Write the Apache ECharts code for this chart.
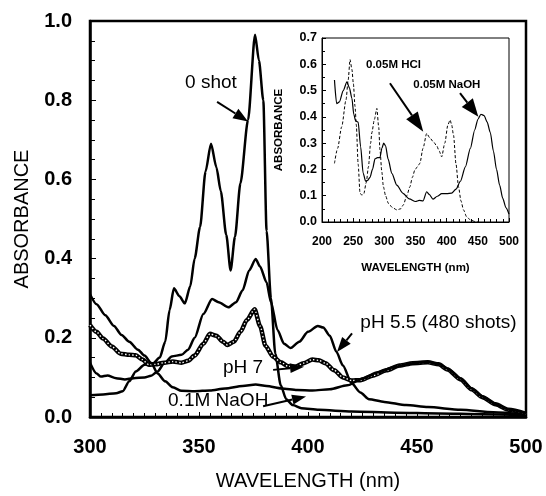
<!DOCTYPE html>
<html>
<head>
<meta charset="utf-8">
<script src="https://cdn.jsdelivr.net/npm/echarts@6/dist/echarts.min.js"></script>
<style>
  html, body { margin: 0; padding: 0; background: #fff; }
  #chart { width: 546px; height: 496px; }
</style>
</head>
<body>
<div id="chart"></div>
<script>
// Absorption spectra: main panel (300-500 nm) and inset (200-500 nm)
const FONT = '"Liberation Sans", Arial, Helvetica, sans-serif';

const mainXTicks = [300, 350, 400, 450, 500];
const mainYTicks = [0.0, 0.2, 0.4, 0.6, 0.8, 1.0];
const insetXTicks = [200, 250, 300, 350, 400, 450, 500];
const insetYTicks = [0.0, 0.1, 0.2, 0.3, 0.4, 0.5, 0.6, 0.7];

// [wavelength nm, absorbance]
const zeroShot = [
  [300,0.055],[306,0.057],[312,0.06],[315,0.065],[318,0.09],[321,0.115],[325,0.132],
  [329,0.136],[332,0.15],[334.5,0.19],[336.5,0.27],[338.5,0.325],[341,0.305],[343.5,0.287],
  [346,0.33],[348,0.4],[350.5,0.48],[353,0.62],[355.5,0.69],[358,0.63],[360,0.57],
  [362.5,0.46],[364.5,0.37],[366.5,0.455],[369,0.59],[372.5,0.75],[375.7,0.965],[377.5,0.9],
  [379.5,0.8],[381,0.47],[383,0.3],[385,0.16],[387.5,0.08],[390,0.045],[393,0.03],
  [397,0.022],[405,0.018],[420,0.014],[440,0.011],[460,0.009],[480,0.007],[500,0.005]
];
const pH55 = [
  [300,0.137],[303,0.11],[305,0.102],[308,0.105],[312,0.098],[316,0.095],[320,0.098],
  [325,0.1],[328,0.104],[331,0.115],[334,0.135],[337.5,0.153],[342,0.157],[345,0.17],
  [348,0.2],[352,0.26],[356,0.298],[359,0.29],[363.5,0.277],[367,0.29],[370,0.32],
  [373,0.37],[376,0.399],[378,0.38],[381,0.34],[383,0.29],[386,0.22],[389,0.185],
  [392,0.174],[396,0.19],[400,0.215],[404.5,0.23],[407,0.226],[410,0.205],[413,0.165],
  [416,0.13],[420,0.085],[424,0.062],[428,0.045],[435,0.038],[445,0.03],[455,0.025],
  [470,0.018],[485,0.012],[500,0.006]
];
const pH7 = [
  [300,0.232],[303,0.215],[306,0.198],[310,0.178],[314,0.16],[318,0.157],[321,0.156],
  [324,0.145],[327,0.132],[330,0.133],[334,0.137],[338,0.14],[342,0.137],[345,0.142],
  [348,0.155],[352,0.185],[355,0.21],[358,0.205],[361,0.19],[363,0.182],[366,0.19],
  [369,0.215],[372,0.245],[375.5,0.272],[378,0.23],[380.5,0.18],[384,0.152],[387.5,0.138],
  [391,0.128],[394,0.127],[398,0.136],[402,0.145],[405,0.143],[408,0.136],[412,0.118],
  [416,0.1],[420,0.092],[424,0.093],[430,0.105],[436,0.118],[442,0.13],[448,0.136],
  [455,0.138],[460,0.133],[464,0.12],[470,0.095],[475,0.07],[480,0.05],[486,0.032],
  [492,0.018],[500,0.008]
];
const naoh01 = [
  [300,0.31],[303,0.285],[307,0.257],[311,0.23],[314.5,0.207],[318,0.19],[322,0.17],
  [325,0.155],[328,0.137],[331,0.11],[334.5,0.09],[338,0.075],[342,0.066],[348,0.065],
  [355,0.067],[362,0.072],[370,0.078],[376,0.082],[381,0.078],[388,0.072],[395,0.068],
  [402,0.067],[410,0.07],[418,0.08],[425,0.097],[432,0.113],[440,0.127],[448,0.136],
  [455,0.139],[460,0.134],[464,0.122],[470,0.097],[475,0.072],[480,0.052],[486,0.033],
  [492,0.019],[500,0.009]
];

// inset spectra
const naoh005 = [
  [220,0.54],[223.5,0.45],[228,0.457],[234,0.5],[240,0.533],[244,0.51],[248,0.47],
  [251,0.41],[254,0.385],[258,0.38],[262,0.286],[266,0.186],[270,0.155],[273,0.158],
  [277,0.17],[281,0.2],[285,0.24],[289,0.245],[293,0.245],[296,0.28],[299,0.3],[302,0.29],
  [306,0.24],[312,0.185],[320,0.14],[330,0.109],[340,0.088],[350,0.078],[356,0.082],
  [362,0.08],[368,0.115],[372,0.105],[378,0.087],[385,0.098],[392,0.108],[400,0.108],
  [408,0.11],[415,0.125],[422,0.155],[430,0.21],[438,0.28],[445,0.35],[450,0.39],
  [455,0.41],[460,0.405],[465,0.38],[470,0.34],[475,0.27],[480,0.2],[485,0.14],
  [490,0.09],[495,0.055],[500,0.03]
];
const hcl005 = [
  [220,0.223],[225,0.28],[231.6,0.362],[238.5,0.464],[242,0.54],[245,0.618],[248,0.58],
  [250.3,0.527],[253,0.44],[255,0.37],[258,0.22],[261,0.11],[264,0.102],[267,0.107],
  [271,0.15],[274.5,0.21],[278,0.3],[280,0.34],[284,0.39],[288,0.432],[291,0.36],
  [293,0.274],[296,0.19],[298.5,0.134],[302,0.1],[306.5,0.071],[313,0.055],[320,0.046],
  [326,0.05],[330.5,0.065],[336,0.1],[341,0.134],[345,0.17],[349,0.198],[353,0.21],
  [357,0.223],[362,0.28],[368,0.337],[373,0.32],[378.7,0.305],[384,0.29],[388,0.27],
  [392,0.248],[397,0.3],[402,0.37],[405.5,0.388],[408,0.37],[411,0.33],[415,0.22],
  [419,0.134],[423,0.08],[427,0.046],[432,0.02],[438,0.008],[445,0.002],[450,0.0]
];

const chart = echarts.init(document.getElementById('chart'), null, { renderer: 'canvas' });

function axisCommon(fontSize, lineW, tickLen, minorSplit) {
  return {
    axisLine: { show: true, lineStyle: { color: '#000', width: lineW } },
    axisTick: { show: true, inside: true, length: tickLen, lineStyle: { color: '#000', width: 1 } },
    minorTick: { show: true, splitNumber: minorSplit, length: tickLen - 1, lineStyle: { color: '#000', width: 1 } },
    splitLine: { show: false },
    axisLabel: { color: '#000', fontFamily: FONT, fontSize: fontSize, fontWeight: 'bold' }
  };
}

const mainX = Object.assign(axisCommon(20, 2.5, 5, 10), {
  type: 'value', gridIndex: 0, min: mainXTicks[0], max: mainXTicks[mainXTicks.length - 1], interval: 50,
  name: 'WAVELENGTH (nm)', nameLocation: 'middle', nameGap: 54,
  nameTextStyle: { color: '#000', fontFamily: FONT, fontSize: 20 }
});
mainX.axisLabel.margin = 20;
const mainY = Object.assign(axisCommon(20, 2.5, 6, 4), {
  type: 'value', gridIndex: 0, min: 0, max: 1.0, interval: 0.2,
  name: 'ABSORBANCE', nameLocation: 'middle', nameGap: 58,
  nameTextStyle: { color: '#000', fontFamily: FONT, fontSize: 20 }
});
mainY.axisLabel.margin = 18;
mainY.axisLabel.formatter = v => v.toFixed(1);

const insetX = Object.assign(axisCommon(12, 1, 4, 5), {
  type: 'value', gridIndex: 1, min: insetXTicks[0], max: insetXTicks[insetXTicks.length - 1], interval: 50,
  name: 'WAVELENGTH (nm)', nameLocation: 'middle', nameGap: 40,
  nameTextStyle: { color: '#000', fontFamily: FONT, fontSize: 11.5, fontWeight: 'bold' }
});
insetX.axisLabel.margin = 14;
insetX.minorTick.length = 3;
const insetY = Object.assign(axisCommon(12.5, 1, 4, 2), {
  type: 'value', gridIndex: 1, min: 0, max: 0.7, interval: 0.1,
  name: 'ABSORBANCE', nameLocation: 'middle', nameGap: 37,
  nameTextStyle: { color: '#000', fontFamily: FONT, fontSize: 11.5, fontWeight: 'bold' }
});
insetY.axisLabel.margin = 5;
insetY.axisLabel.formatter = v => v.toFixed(1);

function solid(data, xi, w, extra) {
  return Object.assign({
    type: 'line', xAxisIndex: xi, yAxisIndex: xi, data: data, showSymbol: false,
    smooth: 0.25, smoothMonotone: 'x', silent: true,
    lineStyle: { color: '#000', width: w }
  }, extra || {});
}

chart.setOption({
  animation: false,
  backgroundColor: '#fff',
  grid: [
    { left: 90, top: 21, width: 436, height: 402, show: true, borderColor: '#000', borderWidth: 2.5, backgroundColor: 'transparent' },
    { left: 322, top: 38, width: 187, height: 184, show: true, borderColor: '#000', borderWidth: 1, backgroundColor: 'transparent' }
  ],
  xAxis: [mainX, insetX],
  yAxis: [mainY, insetY],
  series: [
    solid(zeroShot, 0, 2.5),
    solid(pH55, 0, 2.5),
    // pH 7 drawn as a chain of hollow beads: dark band with a dotted white core
    solid(pH7, 0, 4.5),
    solid(pH7, 0, 1.4, { lineStyle: { color: '#fff', width: 1.4, type: [1.4, 2.2] } }),
    solid(naoh01, 0, 2.5),
    solid(naoh005, 1, 1.2),
    solid(hcl005, 1, 1, { lineStyle: { color: '#000', width: 1, type: [3, 2] } })
  ]
});

// annotation arrows anchored in data coordinates
function px(grid, pt) { return chart.convertToPixel({ xAxisIndex: grid, yAxisIndex: grid }, pt); }
function arrow(grid, from, tip, headLen, headHalf, lw) {
  const a = px(grid, from), b = px(grid, tip);
  const dx = b[0] - a[0], dy = b[1] - a[1];
  const len = Math.hypot(dx, dy), ux = dx / len, uy = dy / len;
  const bx = b[0] - ux * headLen, by = b[1] - uy * headLen;
  return [
    { type: 'line', shape: { x1: a[0], y1: a[1], x2: bx, y2: by }, style: { stroke: '#000', lineWidth: lw }, z: 100 },
    { type: 'polygon', shape: { points: [[b[0], b[1]], [bx - uy * headHalf, by + ux * headHalf], [bx + uy * headHalf, by - ux * headHalf]] },
      style: { fill: '#000' }, z: 100 }
  ];
}
function label(grid, pt, text, size, align, weight) {
  const p = px(grid, pt);
  return { type: 'text', x: p[0], y: p[1], z: 101,
    style: { text: text, fill: '#000', font: (weight || 'normal') + ' ' + size + 'px ' + FONT, align: align || 'left', verticalAlign: 'middle' } };
}

const graphics = [].concat(
  label(0, [355.5, 0.843], '0 shot', 19, 'center'),
  arrow(0, [358.3, 0.796], [372.5, 0.746], 15, 5.5, 2),
  label(0, [424, 0.239], 'pH 5.5 (480 shots)', 19),
  arrow(0, [420.2, 0.211], [413.3, 0.164], 15, 5.5, 2),
  label(0, [361, 0.124], 'pH 7', 19),
  arrow(0, [384, 0.119], [398.2, 0.127], 14, 5, 2),
  label(0, [335.8, 0.04], '0.1M NaOH', 19),
  arrow(0, [379.4, 0.027], [399.1, 0.052], 14, 5, 2),
  label(1, [270.6, 0.597], '0.05M HCl', 11.5, 'left', 'bold'),
  arrow(1, [309, 0.528], [362.5, 0.343], 20, 7, 2),
  label(1, [346.5, 0.521], '0.05M NaOH', 11.5, 'left', 'bold'),
  arrow(1, [421.4, 0.49], [450.8, 0.4], 18, 7, 2)
);
chart.setOption({ graphic: { elements: graphics } });
</script>
</body>
</html>
